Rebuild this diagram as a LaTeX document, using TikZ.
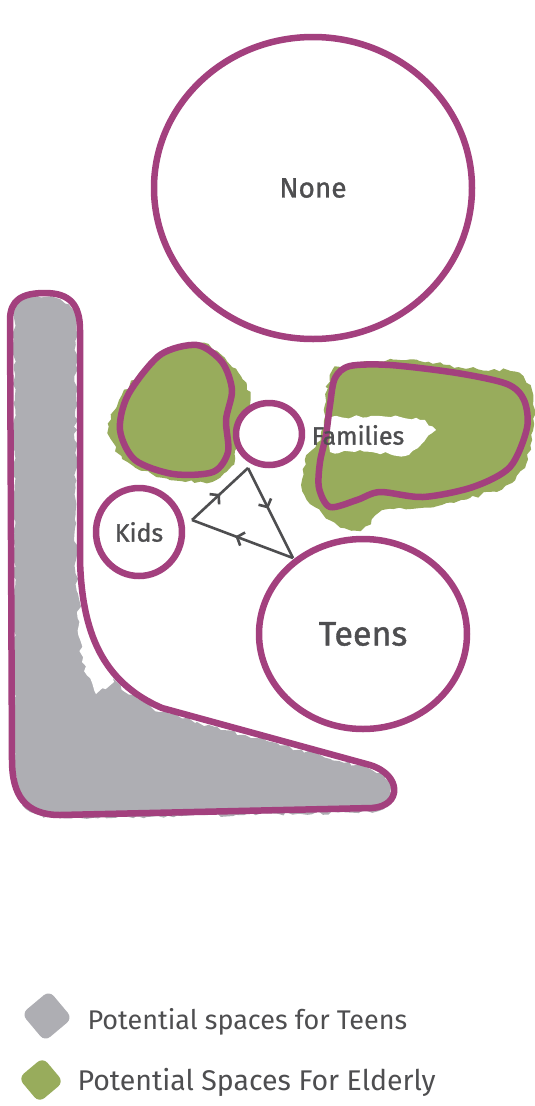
\documentclass[tikz,border=0pt]{standalone}
\usepackage{fontspec}
\setmainfont{Fira Sans}
\newfontfamily\markerfont[FakeBold=1.2]{Fira Sans}
\usetikzlibrary{shapes.geometric,arrows.meta,decorations.markings,decorations.pathmorphing}

\definecolor{plum}{RGB}{163,64,126}
\definecolor{sage}{RGB}{152,172,92}
\definecolor{wash}{RGB}{174,174,179}
\definecolor{ink}{RGB}{78,78,80}

\begin{document}
\begin{tikzpicture}[x=1pt, y=-1pt,
    outline/.style={draw=plum, line width=6.5pt, line join=round},
    zone/.style={outline, ellipse, inner sep=0pt},
    tag/.style={text=ink, font=\fontsize{#1}{#1}\selectfont},
    tag/.default=24,
    marker/.style={text=ink, font=\markerfont\fontsize{#1}{#1}\selectfont},
    marker/.default=24,
    watercolor/.style={decorate, decoration={random steps, segment length=5pt, amplitude=2pt}},
    swatch/.style={rectangle, rounded corners=7pt, minimum size=#1, inner sep=0pt, rotate=40},
    flow/.style={draw=ink, line width=2.6pt, postaction={decorate},
        decoration={markings, mark=at position #1 with {\arrow{Straight Barb[length=6pt,width=14pt,line width=2.6pt]}}}},
    flow/.default=0.5
]
\pgfmathsetseed{7}
\useasboundingbox (0,0) rectangle (535,1106);
\fill[white] (0,0) rectangle (535,1106);

% Gray wash in the L strip
\fill[wash, watercolor] (14,305) .. controls (14,296) and (30,296) .. (45,297) .. controls (68,298) and (76,310) .. (76,330)
    -- (76,560) .. controls (78,635) and (100,685) .. (160,712) -- (372,770)
    .. controls (398,778) and (398,808) .. (372,812) -- (60,818) .. controls (22,818) and (14,795) .. (14,760) -- cycle;
\fill[white, watercolor] (77,612) -- (88,604) -- (100,650) -- (114,682) -- (96,694) -- (82,662) -- cycle;

% Green wash in the two patches
\fill[sage, watercolor] plot[smooth cycle] coordinates {(200,343) (238,372) (250,400) (238,425) (235,458) (215,480) (170,480) (128,462) (108,433) (122,395) (155,360)};
\fill[sage, watercolor] plot[smooth cycle] coordinates {(340,367) (400,360) (470,368) (515,372) (533,395) (532,440) (515,480) (470,498) (420,508) (385,510) (360,530) (330,520) (305,495) (305,460) (320,440) (325,405) (330,375)};
\fill[white, watercolor] (328,418) -- (380,416) -- (425,420) -- (436,430) -- (418,448) -- (405,456) -- (360,450) -- (330,452) -- cycle;

% L strip outline
\draw[outline] (10,320) .. controls (10,300) and (22,293) .. (45,293) .. controls (70,293) and (80,305) .. (80,330)
    -- (80,560) .. controls (82,632) and (102,682) .. (162,708) -- (370,765)
    .. controls (402,775) and (402,806) .. (372,808) -- (60,815) .. controls (25,815) and (12,795) .. (12,760) -- cycle;

% Patch outlines
\draw[outline] plot[smooth cycle] coordinates {(197,345) (222,362) (232,390) (226,420) (228,452) (213,472) (173,474) (135,460) (120,430) (128,395) (160,355)};
\draw[outline] plot[smooth cycle] coordinates {(350,366) (390,365) (457,373) (507,384) (524,400) (527,428) (510,467) (473,487) (423,497) (380,492) (357,500) (330,507) (319,488) (320,462) (326,435) (330,405) (335,378)};

% Zones
\node[zone, minimum width=318pt, minimum height=302pt, marker=28] (none) at (313,188) {None};
\node[zone, minimum width=208pt, minimum height=190pt, marker=34] (teens) at (363,634) {Teens};
\node[zone, minimum width=86pt, minimum height=88pt, marker=25] (kids) at (139,532) {Kids};
\node[zone, minimum width=66pt, minimum height=62pt] (ring) at (269,434) {};
\node[marker=25] (families) at (358,435) {Families};

% Cycle
\coordinate (cycL) at (192,520);
\coordinate (cycT) at (248,468);
\coordinate (cycR) at (293,558);
\draw[flow] (cycL) -- (cycT);
\draw[flow=0.45] (cycT) -- (cycR);
\draw[flow=0.57] (cycR) -- (cycL);

% Legend
\node[swatch=36pt, fill=wash] (swTeens) at (47,1016) {};
\node[swatch=32pt, fill=sage] (swElderly) at (41,1080) {};
\node[tag=27, anchor=west] (legTeens) at (84,1022) {Potential spaces for Teens};
\node[tag=28.5, anchor=west] (legElderly) at (74,1082) {Potential Spaces For Elderly};

\end{tikzpicture}
\end{document}
